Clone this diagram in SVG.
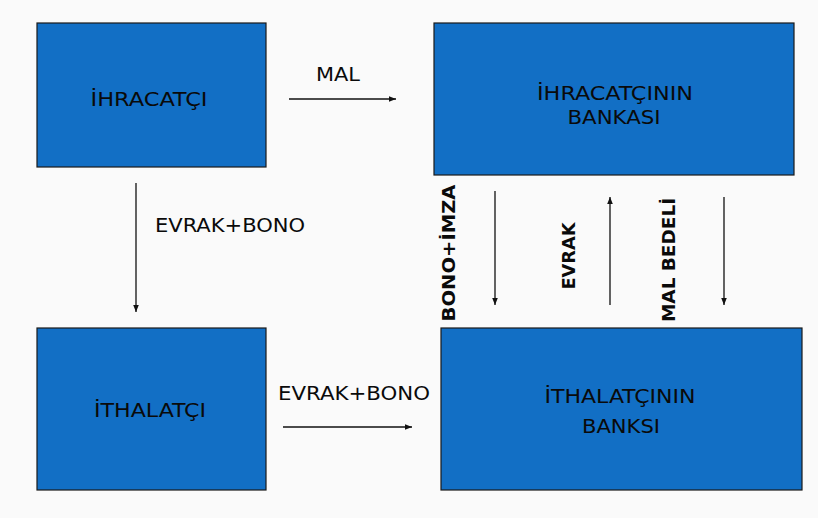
<svg xmlns="http://www.w3.org/2000/svg" width="818" height="518" viewBox="0 0 818 518">
<style>
.box{fill:#126fc5;stroke:#1a1a1a;stroke-width:1.2}
.t{font-family:"DejaVu Sans Condensed","Liberation Sans Narrow","Liberation Sans",sans-serif;font-size:19px;fill:#0a0a0a;text-anchor:middle}
.l{font-family:"DejaVu Sans Condensed","Liberation Sans",sans-serif;font-size:20px;fill:#0a0a0a}
.b{font-family:"DejaVu Sans","Liberation Sans",sans-serif;font-weight:bold;font-size:17px;fill:#0a0a0a;text-anchor:middle}
.c{stroke:#111;stroke-width:1.3;fill:none;marker-end:url(#ah)}
</style>
<defs>
<marker id="ah" viewBox="0 0 10 10" refX="10" refY="5" markerWidth="7" markerHeight="7" markerUnits="userSpaceOnUse" orient="auto"><path d="M0,1 L10,5 L0,9 z" fill="#111"/></marker>
</defs>
<rect width="818" height="518" fill="#fafafa"/>
<g id="ihracatci"><rect class="box" x="37" y="23" width="229" height="144"/><text class="t" x="149" y="106" textLength="117" lengthAdjust="spacingAndGlyphs">İHRACATÇI</text></g>
<g id="ihracatci-bankasi"><rect class="box" x="434" y="23" width="360" height="152"/><text class="t" x="615" y="100" textLength="156" lengthAdjust="spacingAndGlyphs">İHRACATÇININ</text><text class="t" x="614" y="124" textLength="93" lengthAdjust="spacingAndGlyphs">BANKASI</text></g>
<g id="ithalatci"><rect class="box" x="37" y="328" width="229" height="162"/><text class="t" x="150" y="417" textLength="112" lengthAdjust="spacingAndGlyphs">İTHALATÇI</text></g>
<g id="ithalatci-banksi"><rect class="box" x="441" y="328" width="361" height="162"/><text class="t" x="620" y="403" textLength="151" lengthAdjust="spacingAndGlyphs">İTHALATÇININ</text><text class="t" x="621" y="433" textLength="78" lengthAdjust="spacingAndGlyphs">BANKSI</text></g>
<g id="connectors">
<line class="c" x1="289" y1="99" x2="396" y2="99"/>
<text class="l" x="316" y="81" textLength="44" lengthAdjust="spacingAndGlyphs">MAL</text>
<line class="c" x1="136" y1="183" x2="136" y2="312"/>
<text class="l" x="155" y="232" textLength="150" lengthAdjust="spacingAndGlyphs">EVRAK+BONO</text>
<line class="c" x1="283" y1="427" x2="412" y2="427"/>
<text class="l" x="278" y="400" textLength="152" lengthAdjust="spacingAndGlyphs">EVRAK+BONO</text>
<line class="c" x1="495" y1="191" x2="495" y2="305"/>
<text class="b" transform="translate(455,253) rotate(-90)" textLength="137" lengthAdjust="spacingAndGlyphs">BONO+İMZA</text>
<line class="c" x1="610" y1="305" x2="610" y2="197"/>
<text class="b" transform="translate(575,256) rotate(-90)" textLength="67" lengthAdjust="spacingAndGlyphs">EVRAK</text>
<line class="c" x1="724" y1="197" x2="724" y2="305"/>
<text class="b" transform="translate(675,260) rotate(-90)" textLength="124" lengthAdjust="spacingAndGlyphs">MAL BEDELİ</text>
</g>
</svg>
